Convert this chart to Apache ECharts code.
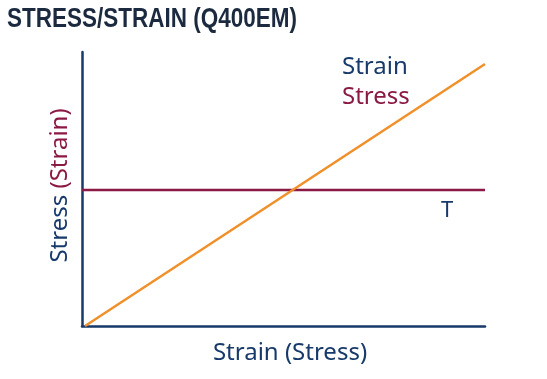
<!DOCTYPE html>
<html><head><meta charset="utf-8">
<script src="https://cdn.jsdelivr.net/npm/echarts@6/dist/echarts.min.js"></script>
<style>html,body{margin:0;padding:0;background:#fff}#c{width:547px;height:379px}</style>
</head><body><div id="c"></div>
<script>
const titleText = "STRESS/STRAIN (Q400EM)";
const strainLine = [[0.75, 0], [100, 95.6]];
const stressLine = [[0, 49.6], [100, 49.6]];
const xName = "Strain (Stress)";
const yNameA = "Stress";
const yNameB = "(Strain)";
const NAVY = "#173a6a", RED = "#8a1a44", ORANGE = "#f0902a";
const F = "Noto Sans";
const chart = echarts.init(document.getElementById('c'));
chart.setOption({
  animation: false,
  grid: { left: 82, right: 62, top: 52, bottom: 53 },
  xAxis: { type: 'value', min: 0, max: 100, axisLine: { show: true, lineStyle: { color: NAVY, width: 2.5 } }, axisTick: { show: false }, axisLabel: { show: false }, splitLine: { show: false },
    name: xName, nameLocation: 'middle', nameGap: 15, nameTextStyle: { color: NAVY, fontFamily: F, fontSize: 24, padding: [0, 0, 0, 13] } },
  yAxis: { type: 'value', min: 0, max: 100, axisLine: { show: true, lineStyle: { color: NAVY, width: 2.5 } }, axisTick: { show: false }, axisLabel: { show: false }, splitLine: { show: false },
    name: '{a|' + yNameA + '} {b|' + yNameB + '}', nameLocation: 'middle', nameGap: 10,
    nameTextStyle: { fontFamily: F, fontSize: 24, padding: [0, 0, 0, 7], rich: { a: { color: NAVY, fontFamily: F, fontSize: 24 }, b: { color: RED, fontFamily: F, fontSize: 24 } } } },
  series: [
    { type: 'line', data: stressLine, symbol: 'none', lineStyle: { color: RED, width: 2.5 }, z: 2 },
    { type: 'line', data: strainLine, symbol: 'none', lineStyle: { color: ORANGE, width: 2.5 }, z: 3 }
  ],
  graphic: [
    { type: 'text', left: 7, top: 6, scaleX: 0.833, style: { text: titleText, fill: "#1c2a40", font: 'bold 27px "Liberation Sans"' } },
    { type: 'text', left: 342, top: 55, style: { text: 'Strain', fill: NAVY, font: '24px "Noto Sans"' } },
    { type: 'text', left: 342, top: 85, style: { text: 'Stress', fill: RED, font: '24px "Noto Sans"' } },
    { type: 'text', left: 441, top: 200, style: { text: 'T', fill: NAVY, font: '22px "Noto Sans"' } }
  ]
});
</script></body></html>
